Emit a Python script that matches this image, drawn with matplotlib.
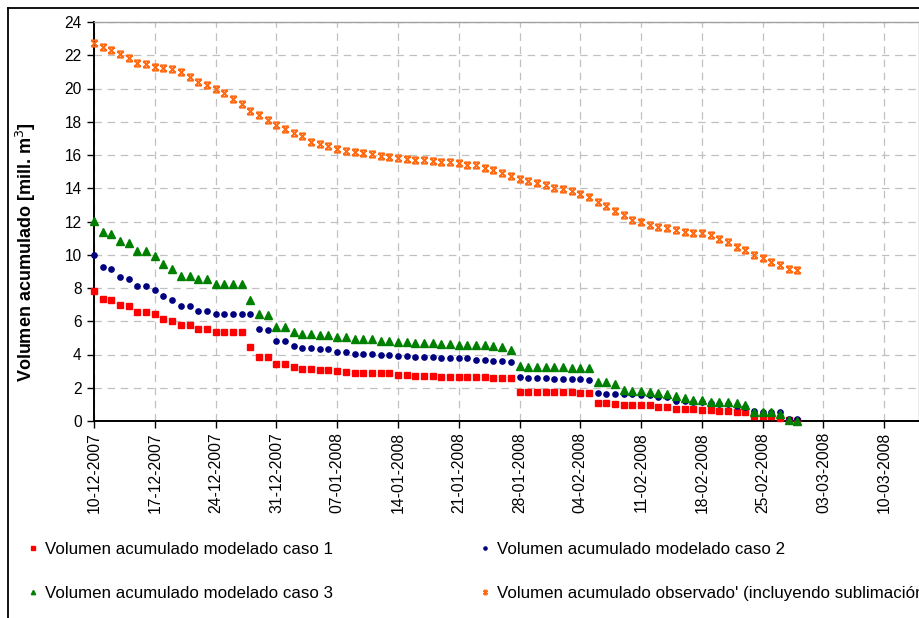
import numpy as np
import pandas as pd
import matplotlib
matplotlib.use("Agg")
import matplotlib.pyplot as plt
import matplotlib.dates as mdates
from matplotlib.path import Path
from matplotlib.lines import Line2D

plt.rcParams['font.family'] = ['Liberation Sans', 'DejaVu Sans']

# daily values, 10-12-2007 .. 29-02-2008
dates = pd.date_range('2007-12-10', '2008-02-29', freq='D')

caso1 = [7.79, 7.31, 7.25, 6.95, 6.89, 6.55, 6.55, 6.41, 6.12, 6.04,
         5.76, 5.76, 5.56, 5.56, 5.36, 5.36, 5.36, 5.36, 4.46, 3.84,
         3.84, 3.41, 3.41, 3.27, 3.13, 3.13, 3.07, 3.07, 2.99, 2.93,
         2.87, 2.87, 2.87, 2.87, 2.87, 2.79, 2.79, 2.73, 2.73, 2.73,
         2.65, 2.65, 2.65, 2.65, 2.65, 2.65, 2.59, 2.59, 2.59, 1.77,
         1.77, 1.77, 1.77, 1.77, 1.77, 1.77, 1.69, 1.69, 1.06, 1.06,
         1.00, 0.98, 0.98, 0.98, 0.98, 0.84, 0.84, 0.72, 0.72, 0.72,
         0.66, 0.66, 0.58, 0.58, 0.52, 0.52, 0.28, 0.28, 0.28, 0.20,
         0.06, 0.02]

caso2 = [9.96, 9.26, 9.14, 8.69, 8.57, 8.13, 8.13, 7.87, 7.53, 7.25,
         6.89, 6.89, 6.61, 6.61, 6.41, 6.41, 6.41, 6.41, 6.41, 5.56,
         5.50, 4.80, 4.80, 4.54, 4.40, 4.40, 4.32, 4.32, 4.18, 4.18,
         4.06, 4.06, 4.06, 4.00, 4.00, 3.92, 3.92, 3.84, 3.84, 3.84,
         3.78, 3.78, 3.78, 3.78, 3.69, 3.69, 3.63, 3.63, 3.55, 2.65,
         2.59, 2.59, 2.59, 2.51, 2.51, 2.51, 2.51, 2.45, 1.69, 1.63,
         1.63, 1.63, 1.60, 1.57, 1.57, 1.43, 1.43, 1.22, 1.18, 1.12,
         1.12, 1.06, 1.00, 1.00, 0.92, 0.86, 0.58, 0.52, 0.52, 0.52,
         0.14, 0.10]

caso3 = [12.05, 11.37, 11.24, 10.80, 10.68, 10.20, 10.20, 9.92, 9.42, 9.14,
         8.73, 8.73, 8.53, 8.53, 8.25, 8.25, 8.25, 8.25, 7.29, 6.45,
         6.37, 5.68, 5.68, 5.38, 5.24, 5.24, 5.18, 5.18, 5.06, 5.06,
         4.92, 4.92, 4.92, 4.84, 4.84, 4.78, 4.78, 4.72, 4.72, 4.72,
         4.64, 4.64, 4.58, 4.58, 4.58, 4.58, 4.52, 4.44, 4.28, 3.31,
         3.23, 3.23, 3.23, 3.23, 3.23, 3.17, 3.17, 3.17, 2.35, 2.35,
         2.21, 1.85, 1.83, 1.83, 1.77, 1.71, 1.63, 1.49, 1.37, 1.27,
         1.27, 1.16, 1.12, 1.12, 1.06, 0.94, 0.52, 0.52, 0.52, 0.44,
         0.06, 0.02]

observado = [22.71, 22.51, 22.29, 22.09, 21.81, 21.53, 21.47, 21.31, 21.24, 21.18,
             21.02, 20.68, 20.40, 20.20, 20.00, 19.74, 19.38, 19.04, 18.67, 18.39,
             18.11, 17.83, 17.57, 17.35, 17.15, 16.81, 16.67, 16.53, 16.39, 16.24,
             16.18, 16.12, 16.04, 15.96, 15.90, 15.82, 15.76, 15.70, 15.68, 15.64,
             15.56, 15.56, 15.50, 15.42, 15.42, 15.24, 15.08, 14.92, 14.72, 14.58,
             14.46, 14.32, 14.18, 14.04, 13.96, 13.82, 13.67, 13.47, 13.19, 12.93,
             12.65, 12.37, 12.09, 11.95, 11.81, 11.67, 11.59, 11.51, 11.37, 11.31,
             11.31, 11.16, 10.96, 10.74, 10.46, 10.26, 9.98, 9.78, 9.58, 9.36,
             9.14, 9.08]

labels = ['Volumen acumulado modelado caso 1',
          'Volumen acumulado modelado caso 2',
          'Volumen acumulado modelado caso 3',
          "Volumen acumulado observado' (incluyendo sublimación)"]

W, H = 920, 618
fig = plt.figure(figsize=(W / 100, H / 100), dpi=100)
ax = fig.add_axes([94 / W, 1 - 421 / H, (919 - 94) / W, (421 - 22) / H])

# X with bars on top and bottom, like the Excel marker
xbar = Path([(-1, -1), (1, 1), (-1, 1), (1, -1), (-1, 1), (1, 1), (-1, -1), (1, -1)],
            [Path.MOVETO, Path.LINETO] * 4)

h1, = ax.plot(dates, caso1, ls='none', marker='s', ms=4.3, mfc='#ff0000', mec='#ff0000',
              clip_on=False, zorder=3)
h2, = ax.plot(dates, caso2, ls='none', marker='o', ms=3.8, mfc='#000080', mec='#000080',
              clip_on=False, zorder=4)
h3, = ax.plot(dates, caso3, ls='none', marker='^', ms=5.2, mfc='#008000', mec='#008000',
              clip_on=False, zorder=5)
h4, = ax.plot(dates, observado, ls='none', marker=xbar, ms=4.5, mew=1.4, mfc='none',
              mec='#ff6a13', clip_on=False, zorder=3)

ax.set_ylim(0, 24)
ax.set_yticks(np.arange(0, 25, 2))
ax.set_xlim(pd.Timestamp('2007-12-10'), pd.Timestamp('2008-03-14'))
ax.set_xticks(pd.date_range('2007-12-10', '2008-03-10', freq='7D'))
ax.xaxis.set_major_formatter(mdates.DateFormatter('%d-%m-%Y'))
ax.tick_params(axis='x', labelrotation=90, labelsize=11.3, length=5, width=1, pad=3)
ax.tick_params(axis='y', labelsize=11.2, length=5, width=1, pad=4)

ax.grid(True, color='#c0c0c0', lw=0.9, ls=(0, (6, 4.5)))
ax.set_axisbelow(True)
for s in ['left', 'bottom']:
    ax.spines[s].set_linewidth(1.4)
    ax.spines[s].set_color('black')
for s in ['top', 'right']:
    ax.spines[s].set_linewidth(1.0)
    ax.spines[s].set_color('#a0a0a0')

ax.set_ylabel('Volumen acumulado [mill. m$^3$]', fontsize=13, fontweight='bold')
ax.yaxis.set_label_coords(-0.068, (421 - 252) / 399)

fig.legend([h1, h3, h2, h4], [labels[0], labels[2], labels[1], labels[3]],
           ncol=2, loc='upper left', bbox_to_anchor=(26 / W, 1 - 542 / H),
           frameon=False, fontsize=12.2, borderpad=0, borderaxespad=0,
           handlelength=0.8, handletextpad=0.3, labelspacing=1.7,
           columnspacing=8.6, markerscale=0.6)

# chart area frame (right and bottom edges fall outside the picture)
fig.add_artist(Line2D([8 / W, 1.0], [1 - 8 / H, 1 - 8 / H], color='black', lw=1.3,
                      transform=fig.transFigure))
fig.add_artist(Line2D([8 / W, 8 / W], [1 - 8 / H, 0.0], color='black', lw=1.3,
                      transform=fig.transFigure))

fig.savefig('out.png', dpi=100)
